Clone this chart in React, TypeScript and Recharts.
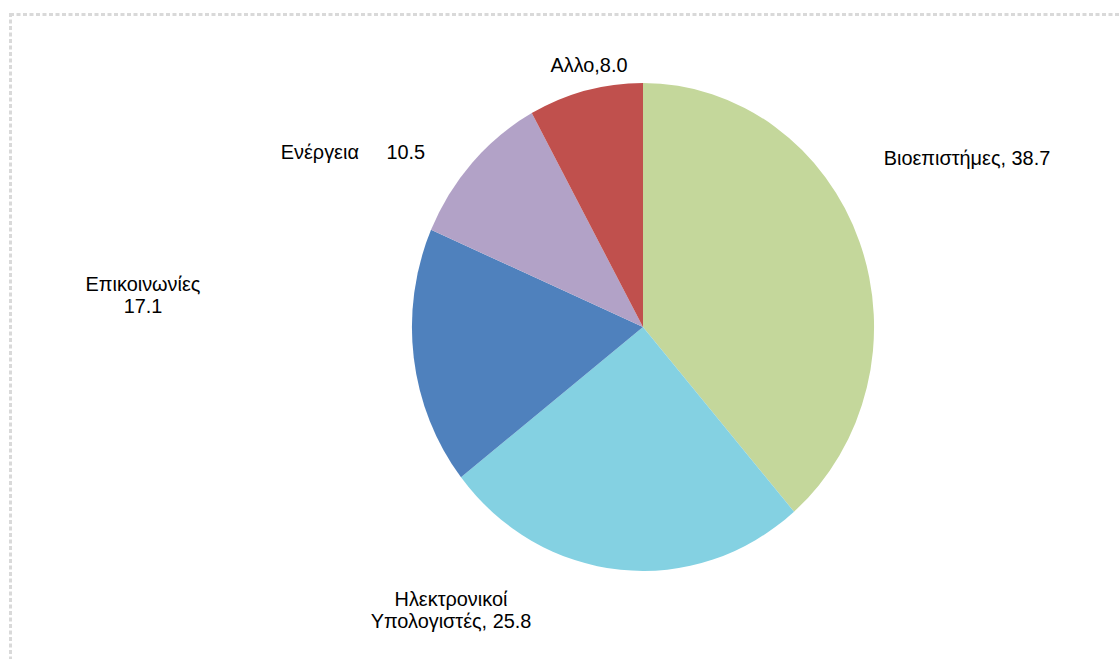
import { Cell, Pie, PieChart } from "recharts";

// Σειρά τομέων: δεξιόστροφα από τις 12
const categories = ["Βιοεπιστήμες", "Ηλεκτρονικοί Υπολογιστές", "Επικοινωνίες", "Ενέργεια", "Αλλο"];
const shares = [38.7, 25.8, 17.1, 10.5, 8.0];
const colors = ["#c4d79b", "#84d1e2", "#4f81bd", "#b2a2c7", "#c0504d"];

const data = categories.map((name, i) => ({ name, value: shares[i] }));

// the source image is squeezed horizontally
const SX = 0.947;
const W = 1120;
const H = 659;
const FONT = "'Liberation Sans', Arial, sans-serif";
const FONT_SIZE = 21;
const LINE_GAP = 22.5;

// label placement, offsets from the pie centre in screen px (first baseline)
type Mode = "inline" | "stack" | "splitName";
const labelLayout: Record<string, { dx: number; dy: number; mode: Mode; sep: string }> = {
  "Βιοεπιστήμες": { dx: 324, dy: -162, mode: "inline", sep: ", " },
  "Ηλεκτρονικοί Υπολογιστές": { dx: -192, dy: 279, mode: "splitName", sep: ", " },
  "Επικοινωνίες": { dx: -500, dy: -36, mode: "stack", sep: "" },
  "Ενέργεια": { dx: -290, dy: -168, mode: "inline", sep: "     " },
  "Αλλο": { dx: -54, dy: -255, mode: "inline", sep: "," },
};

function labelLines(name: string, value: number): string[] {
  const l = labelLayout[name];
  const v = value.toFixed(1);
  if (l.mode === "stack") return [name, v];
  if (l.mode === "splitName") {
    const [first, ...rest] = name.split(" ");
    return [first, `${rest.join(" ")}${l.sep}${v}`];
  }
  return [`${name}${l.sep}${v}`];
}

function SliceLabel(props: any) {
  const { cx, cy, name, value } = props;
  const l = labelLayout[name];
  if (!l) return null;
  const lines = labelLines(name, value);
  return (
    <text
      x={cx + l.dx / SX}
      y={cy + l.dy}
      textAnchor="middle"
      fill="#000"
      fontFamily={FONT}
      fontSize={FONT_SIZE}
      style={{ whiteSpace: "pre" }}
    >
      {lines.map((t, i) => (
        <tspan key={i} x={cx + l.dx / SX} dy={i === 0 ? 0 : LINE_GAP}>
          {t}
        </tspan>
      ))}
    </text>
  );
}

export default function App() {
  return (
    <div style={{ position: "absolute", left: 0, top: 0, width: W, height: H, overflow: "hidden", background: "#fff" }}>
      <div style={{ width: W / SX, height: H, transform: `scaleX(${SX})`, transformOrigin: "0 0" }}>
        <PieChart width={W / SX} height={H} margin={{ top: 0, right: 0, bottom: 0, left: 0 }}>
          <Pie
            data={data}
            dataKey="value"
            nameKey="name"
            cx={643 / SX}
            cy={327}
            outerRadius={244}
            startAngle={90}
            endAngle={-270}
            stroke="none"
            label={SliceLabel}
            labelLine={false}
            isAnimationActive={false}
          >
            {data.map((d, i) => (
              <Cell key={d.name} fill={colors[i]} />
            ))}
          </Pie>
        </PieChart>
      </div>
      <svg width={W} height={H} style={{ position: "absolute", left: 0, top: 0, pointerEvents: "none" }}>
        <line x1={10} y1={14.5} x2={W} y2={14.5} stroke="#d9d9d9" strokeWidth={3} strokeDasharray="4 2.5" />
        <line x1={10.5} y1={13} x2={10.5} y2={H} stroke="#d9d9d9" strokeWidth={3} strokeDasharray="4 2.5" />
      </svg>
    </div>
  );
}
